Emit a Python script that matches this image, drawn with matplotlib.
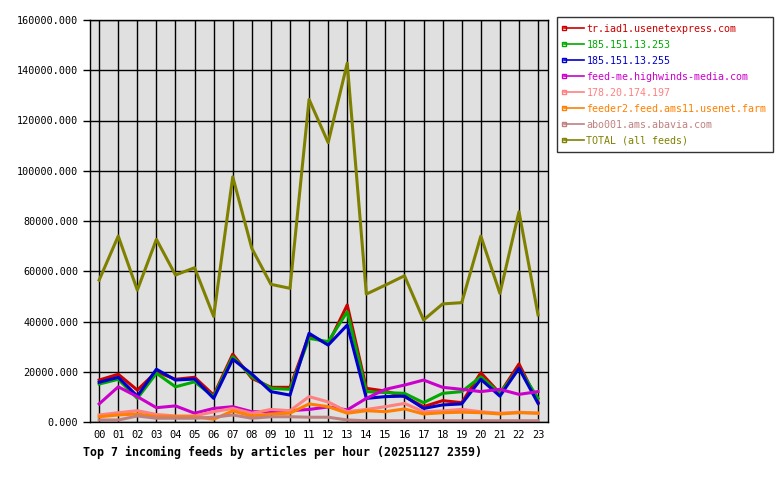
import matplotlib.pyplot as plt

# hours of the day
hours = ['00', '01', '02', '03', '04', '05', '06', '07', '08', '09', '10', '11',
         '12', '13', '14', '15', '16', '17', '18', '19', '20', '21', '22', '23']

feed_names = ['tr.iad1.usenetexpress.com', '185.151.13.253', '185.151.13.255',
              'feed-me.highwinds-media.com', '178.20.174.197',
              'feeder2.feed.ams11.usenet.farm', 'abo001.ams.abavia.com',
              'TOTAL (all feeds)']
feed_colors = ['#cc0000', '#00aa00', '#0000cc', '#cc00cc', '#ff8080',
               '#ff8000', '#c08080', '#808000']

# articles per hour, per feed
tr_iad1 = [16700, 19000, 12700, 20000, 17000, 17800, 10700, 27000, 17400, 13800, 13800, 34600,
           31000, 46600, 13400, 12300, 10100, 6100, 8500, 7700, 19600, 11400, 23100, 7900]
ip_253 = [15100, 17000, 9400, 19400, 14000, 16000, 10100, 26000, 18000, 13400, 13000, 33300,
          32000, 43900, 12100, 11700, 11400, 7700, 11400, 12100, 18000, 11400, 21400, 9400]
ip_255 = [15800, 17800, 10300, 21000, 16700, 17100, 9400, 25000, 19100, 12100, 10700, 35300,
          30600, 38600, 9400, 10100, 10300, 5400, 6800, 7200, 17000, 10300, 21400, 7400]
feed_me = [7200, 14000, 10100, 5700, 6400, 3500, 5400, 6100, 4100, 4100, 4500, 5000,
           6000, 4800, 9400, 13000, 14700, 16700, 13800, 13000, 12100, 13000, 11000, 12100]
ip_197 = [2800, 3700, 4500, 3000, 2400, 2400, 4100, 5400, 3500, 5000, 4500, 10100,
          8000, 4100, 5000, 6100, 7400, 4100, 4400, 5000, 4100, 3500, 3900, 3500]
feeder2 = [2100, 2800, 3200, 2100, 2100, 2100, 1100, 4400, 2400, 3200, 3500, 7200,
           6100, 3500, 4500, 4100, 5200, 3200, 3700, 3900, 3700, 3200, 3700, 3500]
abo001 = [800, 800, 2400, 1500, 1500, 1500, 1900, 2800, 1500, 2100, 2100, 1900,
          1900, 800, 500, 500, 500, 500, 500, 500, 500, 500, 500, 500]
total = [56500, 74000, 52500, 72700, 58500, 61400, 42000, 97600, 69100, 54800, 53200, 128400,
         111200, 142800, 50900, 54500, 58200, 40600, 47000, 47500, 74000, 51200, 83700, 42600]

series = [tr_iad1, ip_253, ip_255, feed_me, ip_197, feeder2, abo001, total]

mono = 'DejaVu Sans Mono'
fig = plt.figure(figsize=(7.8, 4.8), dpi=100)
ax = fig.add_axes([90/780, 1 - 422/480, 458/780, 402/480])
ax.set_facecolor('#e0e0e0')

x = list(range(len(hours)))
for vals, name, col in zip(series, feed_names, feed_colors):
    ax.plot(x, vals, color=col, linewidth=2.2, label=name,
            marker='s', markersize=3, markerfacecolor='none', markevery=[])

ax.set_xlim(-0.48, 23.52)
ax.set_ylim(0, 160000)
ax.set_xticks(x)
ax.set_xticklabels(hours, fontfamily=mono, fontsize=7.5)
yt = list(range(0, 160001, 20000))
ax.set_yticks(yt)
ax.set_yticklabels(['%d.000' % v for v in yt], fontfamily=mono, fontsize=7.3)
ax.tick_params(axis='x', length=0, pad=6)
ax.tick_params(axis='y', length=5, width=1)
ax.grid(True, color='black', linewidth=1)
ax.set_axisbelow(True)
for s in ax.spines.values():
    s.set_linewidth(1)

fig.text(83/780, 1 - 452/480, 'Top 7 incoming feeds by articles per hour (20251127 2359)',
         fontfamily=mono, fontweight='bold', fontsize=8.4, va='center', ha='left')

handles, labels = ax.get_legend_handles_labels()
leg = fig.legend(handles, labels, loc='upper left', bbox_to_anchor=(557/780, 1 - 17/480),
                 prop={'family': mono, 'size': 7.2}, frameon=True, fancybox=False,
                 edgecolor='black', handlelength=2.0, handletextpad=0.3,
                 labelspacing=0.6, borderpad=0.65, borderaxespad=0)
leg.get_frame().set_linewidth(1)
for line, txt in zip(leg.get_lines(), leg.get_texts()):
    line.set_linewidth(1.2)
    line.set_markevery([0])
    txt.set_color(line.get_color())

fig.savefig('out.png', dpi=100)
